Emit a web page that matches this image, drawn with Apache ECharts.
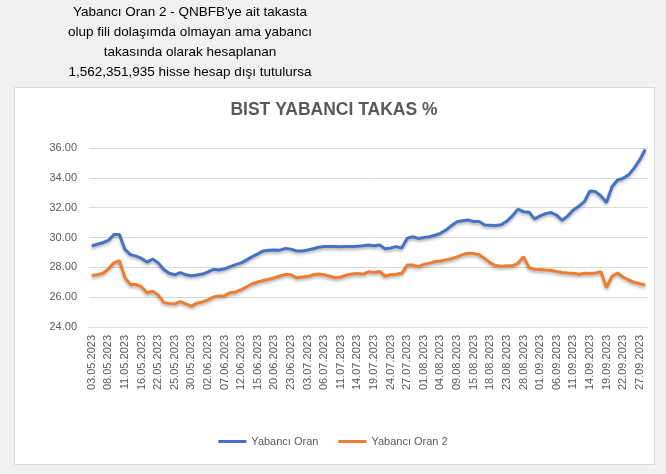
<!DOCTYPE html>
<html>
<head>
<meta charset="utf-8">
<script src="https://cdn.jsdelivr.net/npm/echarts@6/dist/echarts.min.js"></script>
<style>
  html, body { margin: 0; padding: 0; background: #f0f0f0; }
  #chartHome { width: 666px; height: 474px; }
</style>
</head>
<body>
<div id="chartHome"></div>
<script>
// gün listesi (iş günleri)
const dates = [
  '03.05.2023', '04.05.2023', '05.05.2023', '08.05.2023', '09.05.2023', '10.05.2023', '11.05.2023', '12.05.2023', '15.05.2023', '16.05.2023',
  '17.05.2023', '18.05.2023', '22.05.2023', '23.05.2023', '24.05.2023', '25.05.2023', '26.05.2023', '29.05.2023', '30.05.2023', '31.05.2023',
  '01.06.2023', '02.06.2023', '05.06.2023', '06.06.2023', '07.06.2023', '08.06.2023', '09.06.2023', '12.06.2023', '13.06.2023', '14.06.2023',
  '15.06.2023', '16.06.2023', '19.06.2023', '20.06.2023', '21.06.2023', '22.06.2023', '23.06.2023', '26.06.2023', '27.06.2023', '03.07.2023',
  '04.07.2023', '05.07.2023', '06.07.2023', '07.07.2023', '10.07.2023', '11.07.2023', '12.07.2023', '13.07.2023', '14.07.2023', '17.07.2023',
  '18.07.2023', '19.07.2023', '20.07.2023', '21.07.2023', '24.07.2023', '25.07.2023', '26.07.2023', '27.07.2023', '28.07.2023', '31.07.2023',
  '01.08.2023', '02.08.2023', '03.08.2023', '04.08.2023', '07.08.2023', '08.08.2023', '09.08.2023', '10.08.2023', '14.08.2023', '15.08.2023',
  '16.08.2023', '17.08.2023', '18.08.2023', '21.08.2023', '22.08.2023', '23.08.2023', '24.08.2023', '25.08.2023', '28.08.2023', '29.08.2023',
  '31.08.2023', '01.09.2023', '04.09.2023', '05.09.2023', '06.09.2023', '07.09.2023', '08.09.2023', '11.09.2023', '12.09.2023', '13.09.2023',
  '14.09.2023', '15.09.2023', '18.09.2023', '19.09.2023', '20.09.2023', '21.09.2023', '22.09.2023', '25.09.2023', '26.09.2023', '27.09.2023',
  '28.09.2023'
]

const yabanciOran = [
  29.43, 29.55, 29.65, 29.8, 30.2, 30.2, 29.2, 28.85, 28.75, 28.6,
  28.35, 28.56, 28.3, 27.85, 27.6, 27.5, 27.64, 27.5, 27.44, 27.48,
  27.55, 27.7, 27.87, 27.82, 27.9, 28.05, 28.18, 28.3, 28.5, 28.72,
  28.9, 29.1, 29.14, 29.16, 29.15, 29.27, 29.22, 29.1, 29.1, 29.16,
  29.25, 29.35, 29.39, 29.39, 29.39, 29.38, 29.4, 29.39, 29.42, 29.45,
  29.5, 29.44, 29.5, 29.25, 29.3, 29.39, 29.3, 29.95, 30.05, 29.94,
  30.0, 30.05, 30.15, 30.28, 30.5, 30.8, 31.05, 31.12, 31.17, 31.07,
  31.07, 30.84, 30.82, 30.8, 30.85, 31.1, 31.45, 31.9, 31.73, 31.7,
  31.25, 31.45, 31.6, 31.67, 31.5, 31.15, 31.45, 31.85, 32.1, 32.4,
  33.12, 33.08, 32.78, 32.35, 33.4, 33.85, 33.97, 34.2, 34.65, 35.2,
  35.9
]

const yabanciOran2 = [
  27.45, 27.5, 27.6, 27.9, 28.3, 28.45, 27.3, 26.85, 26.85, 26.7,
  26.3, 26.4, 26.15, 25.65, 25.58, 25.55, 25.7, 25.55, 25.4, 25.6,
  25.68, 25.82, 26.02, 26.08, 26.1, 26.3, 26.35, 26.5, 26.7, 26.9,
  27.02, 27.12, 27.2, 27.3, 27.42, 27.53, 27.5, 27.3, 27.35, 27.38,
  27.5, 27.55, 27.5, 27.4, 27.3, 27.35, 27.48, 27.55, 27.58, 27.55,
  27.7, 27.65, 27.72, 27.42, 27.5, 27.53, 27.6, 28.15, 28.15, 28.05,
  28.2, 28.28, 28.38, 28.42, 28.5, 28.58, 28.7, 28.85, 28.94, 28.93,
  28.85, 28.6, 28.3, 28.12, 28.08, 28.1, 28.1, 28.27, 28.72, 27.98,
  27.87, 27.85, 27.82, 27.8, 27.72, 27.65, 27.62, 27.6, 27.53, 27.6,
  27.58, 27.62, 27.7, 26.65, 27.4, 27.62, 27.35, 27.15, 27.0, 26.9,
  26.82
]

const noteText = "Yabancı Oran 2 - QNBFB'ye ait takasta\nolup fili dolaşımda olmayan ama yabancı\ntakasında olarak hesaplanan\n1,562,351,935 hisse hesap dışı tutulursa"

const fontName = 'Liberation Sans'

const option = {
  backgroundColor: '#f0f0f0',
  textStyle: { fontFamily: fontName },
  graphic: [
    {
      type: 'rect',
      z: -10,
      shape: { x: 14.5, y: 87.5, width: 640, height: 377 },
      style: { fill: '#ffffff', stroke: '#d9d9d9', lineWidth: 1 }
    }
  ],
  title: [
    {
      text: noteText,
      left: 185,
      top: -3,
      textAlign: 'center',
      textStyle: {
        fontFamily: fontName,
        fontSize: 13.5,
        fontWeight: 'normal',
        color: '#000000',
        lineHeight: 20
      }
    },
    {
      text: 'BIST YABANCI TAKAS %',
      left: 329,
      top: 96,
      textAlign: 'center',
      textStyle: {
        fontFamily: fontName,
        fontSize: 17.5,
        fontWeight: 'bold',
        color: '#595959'
      }
    }
  ],
  legend: {
    bottom: 22,
    left: 'center',
    icon: 'rect',
    itemWidth: 28,
    itemHeight: 3,
    itemGap: 20,
    textStyle: { fontFamily: fontName, fontSize: 11, color: '#595959' },
    data: ['Yabancı Oran', 'Yabancı Oran 2']
  },
  grid: {
    left: 89,
    right: 18,
    top: 148,
    bottom: 147,
    containLabel: false
  },
  xAxis: {
    type: 'category',
    boundaryGap: true,
    data: dates,
    axisLine: { show: true, lineStyle: { color: '#d9d9d9' } },
    axisTick: { show: false },
    axisLabel: {
      interval: 2,
      rotate: 90,
      margin: 8,
      fontFamily: fontName,
      fontSize: 11,
      color: '#595959'
    }
  },
  yAxis: {
    type: 'value',
    min: 24,
    max: 36,
    interval: 2,
    axisLine: { show: false },
    axisTick: { show: false },
    splitLine: { lineStyle: { color: '#d9d9d9' } },
    axisLabel: {
      margin: 12,
      fontFamily: fontName,
      fontSize: 11,
      color: '#595959',
      formatter: v => v.toFixed(2)
    }
  },
  series: [
    {
      name: 'Yabancı Oran',
      type: 'line',
      data: yabanciOran,
      symbol: 'none',
      color: '#4472c4',
      lineStyle: {
        width: 3,
        color: '#4472c4',
        shadowColor: 'rgba(0,0,0,0.3)',
        shadowBlur: 3,
        shadowOffsetY: 2
      }
    },
    {
      name: 'Yabancı Oran 2',
      type: 'line',
      data: yabanciOran2,
      symbol: 'none',
      color: '#ed7d31',
      lineStyle: {
        width: 3,
        color: '#ed7d31',
        shadowColor: 'rgba(0,0,0,0.3)',
        shadowBlur: 3,
        shadowOffsetY: 2
      }
    }
  ]
}

const chart = echarts.init(document.getElementById('chartHome'))
chart.setOption(option)
</script>
</body>
</html>
